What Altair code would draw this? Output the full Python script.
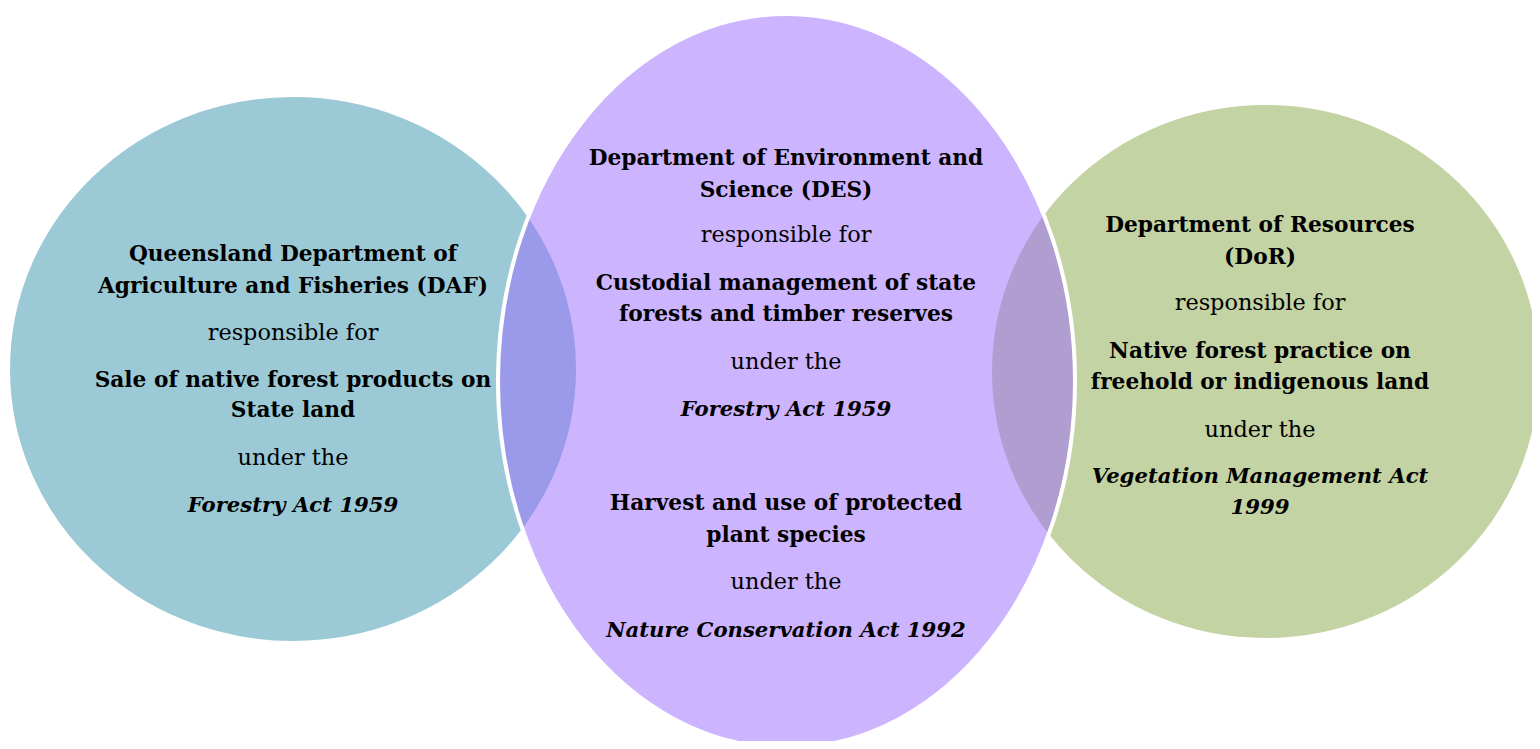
import altair as alt
import pandas as pd

# ---- circles (layout units = page pixels) ----
circle_names = ["DAF", "DoR", "DES"]          # draw order: purple last (on top)
circle_cx = [293, 1265.5, 786.5]
circle_cy = [369, 371.5, 381]
circle_rx = [285, 275.5, 288.5]
circle_ry = [274, 268.5, 367]
circle_colors = ["#3795AD", "#89A747", "#9B69FD"]

# ---- text blocks ----
left_text = ["Queensland Department of", "Agriculture and Fisheries (DAF)", "responsible for",
             "Sale of native forest products on", "State land", "under the", "Forestry Act 1959"]
left_style = ["b", "b", "r", "b", "b", "r", "bi"]
left_y = [261, 293, 340, 387, 417, 465, 512]

mid_text = ["Department of Environment and", "Science (DES)", "responsible for",
            "Custodial management of state", "forests and timber reserves", "under the",
            "Forestry Act 1959", "Harvest and use of protected", "plant species", "under the",
            "Nature Conservation Act 1992"]
mid_style = ["b", "b", "r", "b", "b", "r", "bi", "b", "b", "r", "bi"]
mid_y = [165, 197, 242, 290, 321, 369, 416, 510, 542, 589, 637]

right_text = ["Department of Resources", "(DoR)", "responsible for", "Native forest practice on",
              "freehold or indigenous land", "under the", "Vegetation Management Act", "1999"]
right_style = ["b", "b", "r", "b", "b", "r", "bi", "bi"]
right_y = [232, 264, 310, 358, 389, 437, 483, 514]

block_x = [293, 786, 1260]

# ---- build tables ----
def ellipse_path(rx, ry):
    k = ry / rx
    return f"M-1,0A1,{k:.4f} 0 1,1 1,0A1,{k:.4f} 0 1,1 -1,0Z"

circles = pd.DataFrame({
    "name": circle_names,
    "cx": circle_cx,
    "cy": circle_cy,
    "color": circle_colors,
    "shape": [ellipse_path(a, b) for a, b in zip(circle_rx, circle_ry)],
    "size": [(2 * a) ** 2 for a in circle_rx],
    "order": list(range(len(circle_names))),
})

rows = []
for bx, texts, styles, ys in [(block_x[0], left_text, left_style, left_y),
                              (block_x[1], mid_text, mid_style, mid_y),
                              (block_x[2], right_text, right_style, right_y)]:
    for t, s, y in zip(texts, styles, ys):
        rows.append({"text": t, "style": s, "x": bx, "y": y})
texts = pd.DataFrame(rows)

W, H = 1524, 733
xs = alt.Scale(domain=[8, 8 + W], nice=False, zero=False)
ys = alt.Scale(domain=[8, 8 + H], nice=False, zero=False, reverse=True)

base_c = alt.Chart(circles).mark_point(
    filled=True, fillOpacity=0.5, stroke="white", strokeWidth=4, strokeOpacity=1, opacity=1
).encode(
    x=alt.X("cx:Q", scale=xs, axis=None),
    y=alt.Y("cy:Q", scale=ys, axis=None),
    fill=alt.Fill("color:N", scale=None),
    shape=alt.Shape("shape:N", scale=None),
    size=alt.Size("size:Q", scale=None),
    order=alt.Order("order:Q"),
)

FONT = "DejaVu Serif"

def text_layer(style, weight, fstyle, size):
    return alt.Chart(texts).transform_filter(
        alt.datum.style == style
    ).mark_text(
        font=FONT, fontSize=size, fontWeight=weight, fontStyle=fstyle,
        align="center", baseline="alphabetic", color="#000000"
    ).encode(
        x=alt.X("x:Q", scale=xs, axis=None),
        y=alt.Y("y:Q", scale=ys, axis=None),
        text="text:N",
    )

chart = alt.layer(
    base_c,
    text_layer("b", "bold", "normal", 21.7),
    text_layer("r", "normal", "normal", 22.4),
    text_layer("bi", "bold", "italic", 21.2),
).properties(
    width=W, height=H, padding=0, background="white",
    autosize=alt.AutoSizeParams(type="none"),
).configure_view(strokeWidth=0)

chart.save("out.html", embed_options={"renderer": "svg", "actions": False})
